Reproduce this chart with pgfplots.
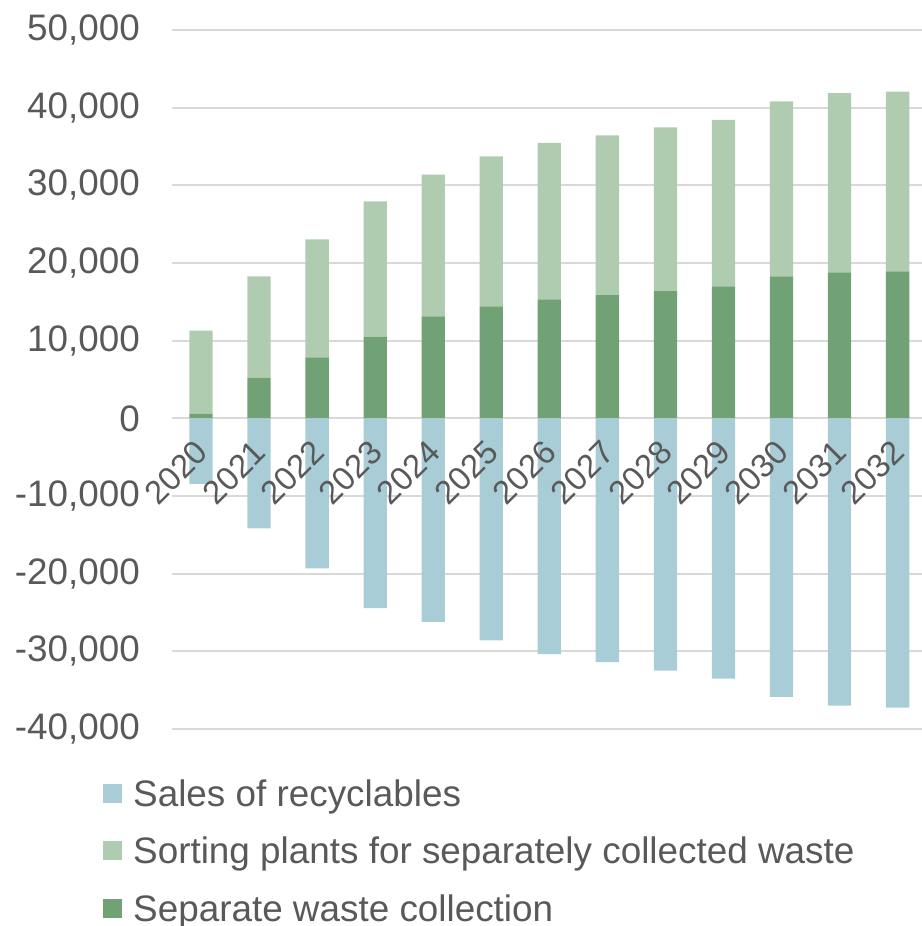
\documentclass[border=0pt]{standalone}
\usepackage{pgfplots}
\pgfplotsset{compat=1.18}
\usepackage{pgfplotstable}
\usepackage{fontspec}
\setmainfont{Liberation Sans}

\definecolor{salesblue}{HTML}{A9CDD7}
\definecolor{sortgreen}{HTML}{B0CCB0}
\definecolor{collectgreen}{HTML}{71A276}
\definecolor{labelgray}{HTML}{595959}
\definecolor{gridgray}{HTML}{D9D9D9}

% tick labels are drawn above the bars, the grid below them
\pgfplotsset{
  layers/labels over bars/.define layer set={
    axis background,axis grid,axis ticks,axis lines,main,axis tick labels,axis descriptions,axis foreground
  }{/pgfplots/layers/standard},
}

% year index, sales of recyclables, separate waste collection, sorting plants
\pgfplotstableread{
idx sales  collect sorting
0   -8450   570   10730
1  -14160  5240   13040
2  -19310  7850   15190
3  -24450 10520   17410
4  -26200 13130   18240
5  -28600 14410   19310
6  -30370 15320   20160
7  -31400 15870   20550
8  -32470 16430   21020
9  -33500 16990   21450
10 -35870 18280   22520
11 -36980 18790   23080
12 -37240 18920   23160
}\datatable

\begin{document}
\begin{tikzpicture}
\begin{axis}[
  set layers=labels over bars,
  at={(172bp,197bp)}, anchor=south west,
  scale only axis,
  width=750bp, height=699bp,
  xmin=-0.5, xmax=12.42,
  ymin=-40000, ymax=50000,
  ybar stacked,
  bar width=23.3bp,
  axis x line*=middle,
  axis y line*=left,
  axis line style={draw=none},
  major tick length=0pt,
  scaled y ticks=false,
  ytick={-40000,-30000,...,50000},
  yticklabels={{-40,000},{-30,000},{-20,000},{-10,000},{0},{10,000},{20,000},{30,000},{40,000},{50,000}},
  xtick={0,...,12},
  xticklabels={2020,2021,2022,2023,2024,2025,2026,2027,2028,2029,2030,2031,2032},
  ymajorgrids,
  grid style={gridgray, line width=2bp},
  yticklabel style={font=\fontsize{37}{44}\selectfont, text=labelgray, anchor=east, inner sep=0pt, xshift=-32bp},
  xticklabel style={font=\fontsize{33}{40}\selectfont, text=labelgray, xshift=1bp, yshift=-28bp, rotate=45, anchor=east, inner sep=0pt},
  legend style={at={(rel axis cs:0,0)}, anchor=north west, xshift=-69bp, yshift=-50bp,
    draw=none, fill=none, inner sep=0pt, column sep=0pt, row sep=22.5bp,
    font=\fontsize{37}{44}\selectfont, text=labelgray,
    nodes={inner sep=0pt, text height=27bp, text depth=8bp}},
  legend cell align=left,
  legend image code/.code={\fill[#1] (0bp,-6bp) rectangle (19bp,13bp); \path (30bp,0bp);},
]
\addplot[fill=salesblue, draw=none, forget plot] table[x=idx, y=sales] {\datatable};
\addplot[fill=collectgreen, draw=none, forget plot] table[x=idx, y=collect] {\datatable};
\addplot[fill=sortgreen, draw=none, forget plot] table[x=idx, y=sorting] {\datatable};

\addlegendimage{fill=salesblue, draw=none}
\addlegendentry{Sales of recyclables}
\addlegendimage{fill=sortgreen, draw=none}
\addlegendentry{Sorting plants for separately collected waste}
\addlegendimage{fill=collectgreen, draw=none}
\addlegendentry{Separate waste collection}
\end{axis}
\pgfresetboundingbox
\path (0bp,0bp) rectangle (922bp,926bp);
\end{tikzpicture}
\end{document}
